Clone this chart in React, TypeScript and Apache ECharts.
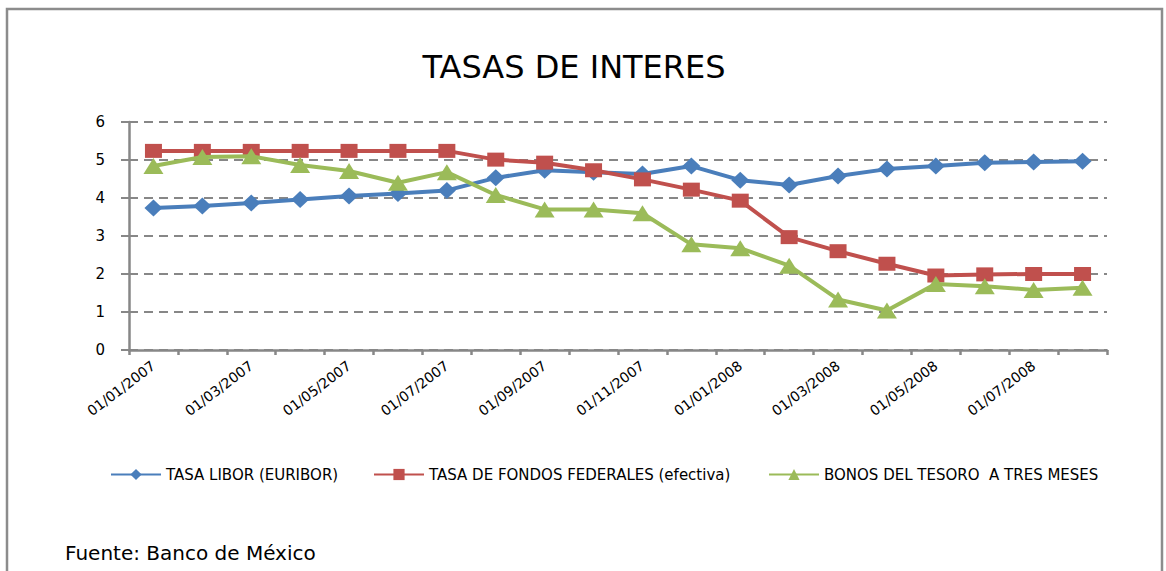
import React, { useEffect, useRef } from "react";
import * as echarts from "echarts";

const categories = [
  "01/01/2007", "01/02/2007", "01/03/2007", "01/04/2007", "01/05/2007",
  "01/06/2007", "01/07/2007", "01/08/2007", "01/09/2007", "01/10/2007",
  "01/11/2007", "01/12/2007", "01/01/2008", "01/02/2008", "01/03/2008",
  "01/04/2008", "01/05/2008", "01/06/2008", "01/07/2008", "01/08/2008",
];

const libor = [3.74, 3.79, 3.87, 3.96, 4.05, 4.12, 4.2, 4.53, 4.73, 4.68, 4.63, 4.84, 4.47, 4.34, 4.58, 4.76, 4.84, 4.93, 4.95, 4.97];
const fedFunds = [5.24, 5.24, 5.24, 5.24, 5.24, 5.24, 5.24, 5.01, 4.93, 4.73, 4.49, 4.22, 3.93, 2.97, 2.6, 2.27, 1.96, 1.99, 2.0, 2.0];
const treasury = [4.84, 5.08, 5.1, 4.87, 4.71, 4.4, 4.68, 4.08, 3.7, 3.7, 3.6, 2.78, 2.68, 2.22, 1.33, 1.04, 1.74, 1.68, 1.58, 1.64];

const seriesNames = [
  "TASA LIBOR (EURIBOR)",
  "TASA DE FONDOS FEDERALES (efectiva)",
  "BONOS DEL TESORO  A TRES MESES",
];

const titleText = "TASAS DE INTERES";
const sourceText = "Fuente: Banco de México";

export default function App() {
  const ref = useRef<HTMLDivElement>(null);

  useEffect(() => {
    if (!ref.current) return;
    const chart = echarts.init(ref.current, undefined, { renderer: "svg" });
    const gray = "#878787";
    const legendText = { fontSize: 15, fontFamily: "DejaVu Sans", color: "#000" };
    chart.setOption({
      animation: false,
      backgroundColor: "#fff",
      title: [
        {
          text: titleText,
          left: 569,
          textAlign: "center",
          top: 46,
          textStyle: { fontSize: 32, fontWeight: "normal", fontFamily: "DejaVu Sans", color: "#000" },
        },
        {
          text: sourceText,
          left: 60,
          top: 538,
          textStyle: { fontSize: 20, fontWeight: "normal", fontFamily: "DejaVu Sans", color: "#000" },
        },
      ],
      graphic: [
        {
          type: "rect",
          shape: { x: 7, y: 9, width: 1155, height: 620 },
          style: { fill: "none", stroke: "#8c8c8c", lineWidth: 2.5 },
          silent: true,
        },
      ],
      legend: [
        { data: [seriesNames[0]], left: 105, top: 462, itemWidth: 50, itemHeight: 14, itemGap: 5, textStyle: legendText },
        { data: [seriesNames[1]], left: 368, top: 462, itemWidth: 50, itemHeight: 14, itemGap: 5, textStyle: legendText },
        { data: [seriesNames[2]], left: 763, top: 462, itemWidth: 50, itemHeight: 14, itemGap: 5, textStyle: legendText },
      ],
      grid: { left: 129, right: 59, top: 122, bottom: 221, containLabel: false },
      xAxis: {
        type: "category",
        data: categories,
        boundaryGap: true,
        axisLine: { lineStyle: { color: gray, width: 2.5 } },
        axisTick: { show: true, interval: 0, length: 5, lineStyle: { color: gray, width: 2.5 } },
        axisLabel: {
          interval: 1,
          rotate: 37,
          margin: 14,
          fontSize: 14,
          fontFamily: "DejaVu Sans",
          color: "#000",
        },
        splitLine: { show: false },
      },
      yAxis: {
        type: "value",
        min: 0,
        max: 6,
        interval: 1,
        axisLine: { show: true, lineStyle: { color: gray, width: 2.5 } },
        axisTick: { show: true, length: 8, lineStyle: { color: gray, width: 2 } },
        axisLabel: { margin: 24, fontSize: 15, fontFamily: "DejaVu Sans", color: "#000" },
        splitLine: { show: true, lineStyle: { color: gray, width: 2, type: [9, 6] } },
      },
      series: [
        {
          name: seriesNames[0],
          type: "line",
          data: libor,
          symbol: "diamond",
          symbolSize: [18, 17],
          lineStyle: { color: "#4A7EBB", width: 4 },
          itemStyle: { color: "#4A7EBB" },
          z: 3,
        },
        {
          name: seriesNames[1],
          type: "line",
          data: fedFunds,
          symbol: "rect",
          symbolSize: [17, 14],
          lineStyle: { color: "#C0504D", width: 4 },
          itemStyle: { color: "#C0504D" },
          z: 4,
        },
        {
          name: seriesNames[2],
          type: "line",
          data: treasury,
          symbol: "triangle",
          symbolSize: [20, 16],
          lineStyle: { color: "#9BBB59", width: 4 },
          itemStyle: { color: "#9BBB59" },
          z: 5,
        },
      ],
    });
    return () => chart.dispose();
  }, []);

  return (
    <div
      ref={ref}
      style={{ position: "absolute", left: 0, top: 0, width: 1166, height: 571 }}
    />
  );
}
